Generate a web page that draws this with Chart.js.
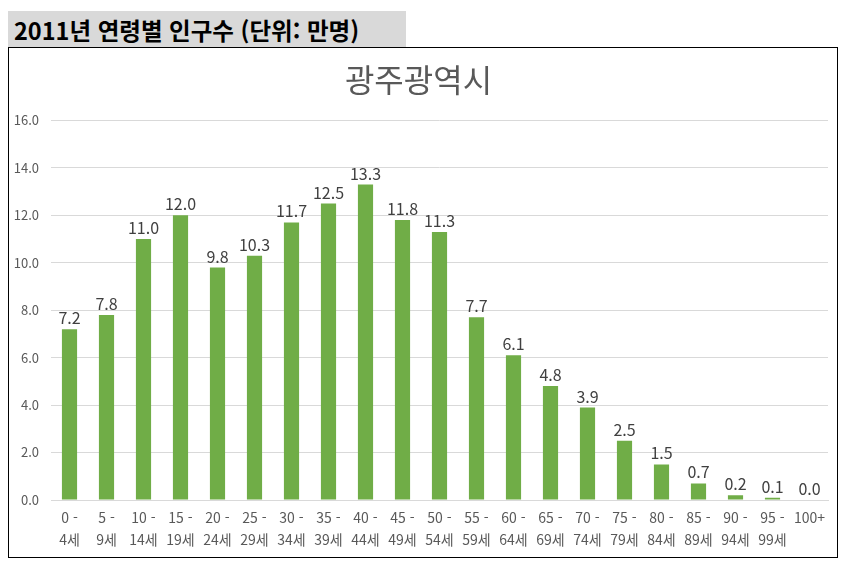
<!DOCTYPE html>
<html lang="ko">
<head>
<meta charset="utf-8">
<title>2011년 연령별 인구수</title>
<script src="https://cdn.jsdelivr.net/npm/chart.js@4.4.1/dist/chart.umd.min.js"></script>
<style>
    body { margin: 0; background: #fff; font-family: 'Malgun Gothic', 'Noto Sans CJK KR', sans-serif; }
    #header {
        position: absolute; left: 8px; top: 11px; width: 398px; height: 36px;
        background: #d9d9d9; color: #000; font-weight: bold; font-size: 23.5px;
        line-height: 38px; padding-left: 6px; box-sizing: border-box; white-space: nowrap;
    }
    #box {
        position: absolute; left: 8px; top: 47px; width: 830px; height: 511px;
        border: 1px solid #000; box-sizing: border-box;
    }
    #chart { display: block; }
</style>
</head>
<body>
<div id="header">2011년 연령별 인구수 (단위: 만명)</div>
<div id="box"><canvas id="chart" width="828" height="509"></canvas></div>
<script>
// 연령대와 인구수 (만명)
const ageGroups = [
    ['0 -', '4세'], ['5 -', '9세'], ['10 -', '14세'], ['15 -', '19세'], ['20 -', '24세'],
    ['25 -', '29세'], ['30 -', '34세'], ['35 -', '39세'], ['40 -', '44세'], ['45 -', '49세'],
    ['50 -', '54세'], ['55 -', '59세'], ['60 -', '64세'], ['65 -', '69세'], ['70 -', '74세'],
    ['75 -', '79세'], ['80 -', '84세'], ['85 -', '89세'], ['90 -', '94세'], ['95 -', '99세'],
    ['100+']
];
const population = [7.2, 7.8, 11.0, 12.0, 9.8, 10.3, 11.7, 12.5, 13.3, 11.8, 11.3, 7.7, 6.1, 4.8, 3.9, 2.5, 1.5, 0.7, 0.2, 0.1, 0.0];
const yTicks = [0, 2, 4, 6, 8, 10, 12, 14, 16];

const fontFamily = "'Malgun Gothic', 'Noto Sans CJK KR', sans-serif";

// 막대 위에 값 표시
const barValueLabels = {
    id: 'barValueLabels',
    afterDatasetsDraw(chart) {
        const ctx = chart.ctx;
        const meta = chart.getDatasetMeta(0);
        ctx.save();
        ctx.font = '16px ' + fontFamily;
        ctx.fillStyle = '#404040';
        ctx.textAlign = 'center';
        ctx.textBaseline = 'bottom';
        meta.data.forEach((bar, i) => {
            ctx.fillText(population[i].toFixed(1), bar.x, bar.y - 3);
        });
        ctx.restore();
    }
};

const ctx = document.getElementById('chart').getContext('2d');
const chart = new Chart(ctx, {
    type: 'bar',
    data: {
        labels: ageGroups,
        datasets: [{
            data: population,
            backgroundColor: '#70ad47',
            barPercentage: 0.41,
            categoryPercentage: 1.0
        }]
    },
    options: {
        responsive: false,
        animation: false,
        layout: { padding: { left: 0, right: 9, top: 0, bottom: 0 } },
        plugins: {
            legend: { display: false },
            tooltip: { enabled: false },
            title: {
                display: true,
                text: '광주광역시',
                color: '#595959',
                font: { family: fontFamily, size: 32, weight: 'normal' },
                padding: { top: 13, bottom: 21 }
            }
        },
        scales: {
            x: {
                grid: { display: false },
                border: { color: '#d9d9d9' },
                ticks: {
                    color: '#595959',
                    font: { family: fontFamily, size: 14, lineHeight: 1.6 },
                    padding: -2,
                    maxRotation: 0,
                    autoSkip: false
                },
                afterFit(scale) { scale.height = 57; }
            },
            y: {
                min: 0,
                max: 16,
                afterBuildTicks(scale) { scale.ticks = yTicks.map(v => ({ value: v })); },
                grid: { color: '#d9d9d9', drawTicks: false },
                border: { display: false },
                ticks: {
                    color: '#595959',
                    font: { family: fontFamily, size: 13 },
                    padding: 12,
                    callback: v => v.toFixed(1)
                },
                afterFit(scale) { scale.width = 42; }
            }
        }
    },
    plugins: [barValueLabels]
});
</script>
</body>
</html>
